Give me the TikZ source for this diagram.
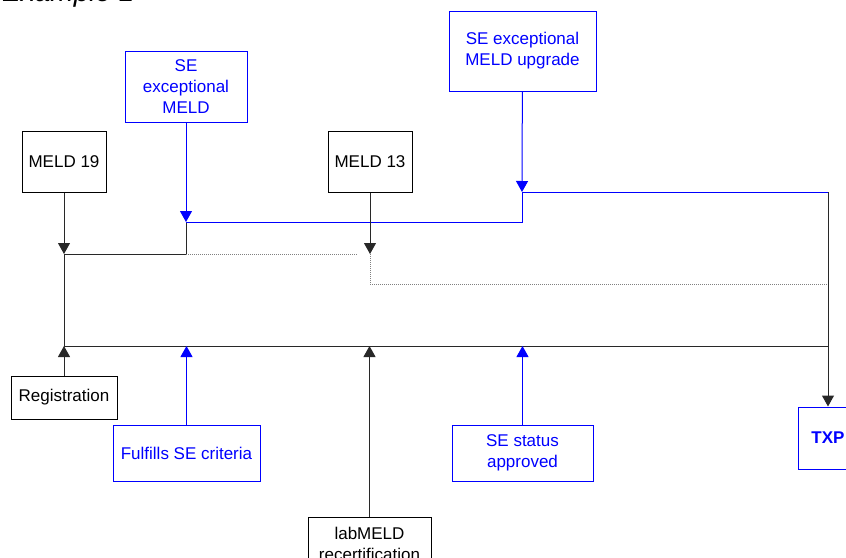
\documentclass[tikz,border=0pt]{standalone}
\usepackage{fontspec}
\setmainfont{Liberation Sans}
\usetikzlibrary{arrows.meta, positioning}
\definecolor{seblue}{RGB}{0,0,255}
\definecolor{linegray}{RGB}{40,40,40}
\tikzset{
  x=1pt, y=-1pt, % one unit is one pixel of the layout
  >={Triangle[length=11pt,width=12pt]}, % filled triangle heads
  every node/.style={font=\fontsize{17}{21}\selectfont, align=center}, % text of all boxes
  box/.style={draw=black, line width=1pt, rectangle, inner sep=2pt}, % a black box
  sebox/.style={box, draw=seblue, text=seblue}, % a blue SE box
  link/.style={draw=linegray, line width=1pt}, % black connector
  selink/.style={draw=seblue, line width=1pt}, % blue connector
  maybe/.style={draw=gray, line width=1pt, dash pattern=on 1pt off 1pt}, % dotted path
}
\begin{document}
\begin{tikzpicture}
      \useasboundingbox (0,0) rectangle (846,557);
      \node[anchor=base west, inner sep=0pt, font=\fontsize{28}{30}\selectfont\itshape] (title) at (2,1) {Example 1};

      \node[box, minimum width=84pt, minimum height=61pt] (meld19) at (64,161.5) {MELD 19};
      \node[sebox, minimum width=122pt, minimum height=71pt] (seexc) at (186,86.5) {SE\\exceptional\\MELD};
      \node[box, minimum width=84pt, minimum height=61pt] (meld13) at (370,161.5) {MELD 13};
      \node[sebox, minimum width=147pt, minimum height=80pt] (seupg) at (522.5,51) {SE exceptional\\MELD upgrade};
      \node[box, minimum width=106pt, minimum height=43pt] (reg) at (64,397.5) {Registration};
      \node[sebox, minimum width=147pt, minimum height=56pt] (fulfil) at (186.5,453) {Fulfills SE criteria};
      \node[box, minimum width=123pt, minimum height=53pt] (lab) at (369.5,543.5) {labMELD\\recertification};
      \node[sebox, minimum width=141pt, minimum height=56pt] (seapp) at (522.5,453) {SE status\\approved};
      \node[sebox, minimum width=60pt, minimum height=62pt, font=\fontsize{17}{21}\selectfont\bfseries] (txp) at (828,438) {TXP};

      \coordinate (j19) at (64,254);
      \coordinate (jexc) at (186,222);
      \coordinate (j13) at (370,254);
      \coordinate (jupg) at (522,192);
      \coordinate (jtxp) at (828,192);
      \coordinate (d13) at (828,284);
      \coordinate (busw) at (64,346);
      \coordinate (buse) at (828,346);

      % upper track
      \draw[link] (j19) -| (jexc);
      \draw[selink] (jexc) -| (jupg) -- (jtxp);
      \draw[maybe] (jexc |- j19) -- ([xshift=-12pt]j13);
      \draw[maybe] (j13) |- (d13);
      % bus
      \draw[link] (j19) -- (busw) -- (buse);

      % arrows down
      \draw[link, ->] (meld19) -- (j19);
      \draw[selink, ->] (seexc) -- (jexc);
      \draw[link, ->] (meld13) -- (j13);
      \draw[selink, ->] (seupg) -- (jupg);
      \draw[link, ->] (jtxp) -- (txp);
      % arrows up
      \draw[link, ->] (reg) -- (busw);
      \draw[selink, ->] (fulfil) -- (fulfil |- busw);
      \draw[link, ->] (lab) -- (lab |- busw);
      \draw[selink, ->] (seapp) -- (seapp |- busw);
\end{tikzpicture}
\end{document}
